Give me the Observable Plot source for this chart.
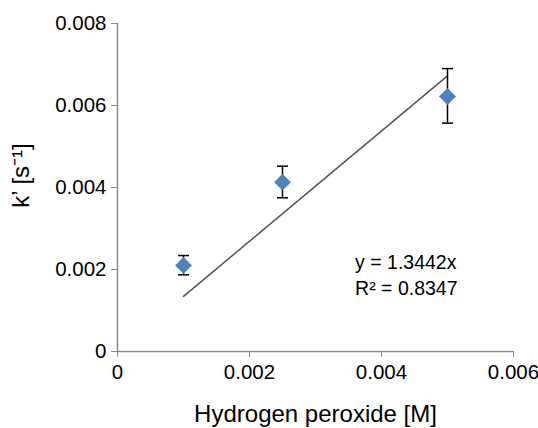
<!DOCTYPE html>
<html><head><meta charset="utf-8">
<script src="https://cdn.jsdelivr.net/npm/d3@7"></script>
<script src="https://cdn.jsdelivr.net/npm/@observablehq/plot@0.6"></script>
<style>body{margin:0;background:#fff}</style>
</head><body><div id="chart"></div>
<script>
const concentrations = [0.001, 0.0025, 0.005];
const rates = [0.0021, 0.00413, 0.00622];
const errLow = [0.00187, 0.00375, 0.00557];
const errHigh = [0.00234, 0.00452, 0.0069];
const xTicks = [0, 0.002, 0.004, 0.006];
const yTicks = [0, 0.002, 0.004, 0.006, 0.008];
const slope = 1.3442;
const rSquared = 0.8347;
const trendX = [0.001, 0.005];

const data = concentrations.map((c, i) => ({x: c, y: rates[i], lo: errLow[i], hi: errHigh[i]}));
const cap = {draw(ctx) { ctx.moveTo(-5.5, 0); ctx.lineTo(5.5, 0); }};
const axisGray = "#8c8c8c";

const chart = Plot.plot({
  width: 538, height: 428,
  marginLeft: 117, marginRight: 25, marginTop: 23, marginBottom: 77,
  style: {fontFamily: "'Liberation Sans', Arial, sans-serif", background: "#fff", color: "#000"},
  x: {domain: [0, 0.006]},
  y: {domain: [0, 0.008]},
  marks: [
    Plot.axisX({ticks: xTicks, tickFormat: d => String(d), tickSize: 6, tickPadding: 7, fontSize: 20.5, stroke: axisGray,
      label: "Hydrogen peroxide [M]", labelAnchor: "center", labelOffset: 70, labelArrow: "none"}),
    Plot.axisY({ticks: yTicks, tickFormat: d => String(d), tickSize: 6, tickPadding: 5, fontSize: 20.5, stroke: axisGray,
      label: "k’ [s⁻¹]", labelAnchor: "center", labelOffset: 106, labelArrow: "none"}),
    Plot.ruleX([0], {stroke: axisGray, strokeWidth: 1.5}),
    Plot.ruleY([0], {stroke: axisGray, strokeWidth: 1.5}),
    Plot.line(trendX, {x: d => d, y: d => slope * d, stroke: "#555", strokeWidth: 1.5}),
    Plot.ruleX(data, {x: "x", y1: "lo", y2: "hi", stroke: "#000", strokeWidth: 1.5}),
    Plot.dot(data, {x: "x", y: "hi", symbol: cap, r: 5, stroke: "#000", strokeWidth: 1.5}),
    Plot.dot(data, {x: "x", y: "lo", symbol: cap, r: 5, stroke: "#000", strokeWidth: 1.5}),
    Plot.dot(data, {x: "x", y: "y", symbol: "diamond2", r: 7.6, fill: "#4f81bd"}),
    Plot.text([`y = ${slope}x\nR² = ${rSquared}`], {x: () => 0.0036, y: () => 0.00189, text: d => d,
      textAnchor: "start", fontSize: 19.5, lineHeight: 1.3, fill: "#000"})
  ]
});
chart.querySelectorAll("g[aria-label='x-axis label'] text, g[aria-label='y-axis label'] text").forEach(t => t.setAttribute("font-size", 24));
chart.querySelectorAll("g[aria-label='y-axis label'] text").forEach(t => t.setAttribute("dx", 12));
document.getElementById("chart").append(chart);
</script>
</body></html>
